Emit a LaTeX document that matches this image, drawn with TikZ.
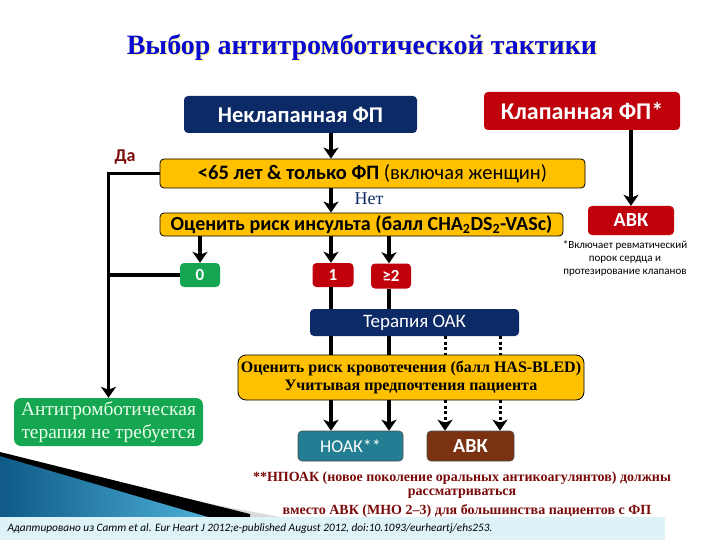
\documentclass[tikz,border=0pt]{standalone}
\usepackage{fontspec}
\setmainfont{Liberation Serif}
\newfontfamily\calf{Carlito}
\usetikzlibrary{arrows.meta}
\definecolor{navy}{HTML}{0C2A66}
\definecolor{rd}{HTML}{C0000A}
\definecolor{org}{HTML}{FFC000}
\definecolor{grn}{HTML}{14A650}
\definecolor{teal2}{HTML}{237E93}
\definecolor{brn}{HTML}{7B3211}
\definecolor{dred}{HTML}{7A0A0A}
\definecolor{tblue}{HTML}{0A0ACF}
\definecolor{strip}{HTML}{DDF3F8}
\definecolor{sw1}{HTML}{0F5A86}
\definecolor{sw2}{HTML}{4FB3DC}
\begin{document}
\begin{tikzpicture}[x=1pt,y=-1pt,
  box/.style={rounded corners=4pt, inner sep=0pt, align=center, text=white,
    font=\calf\bfseries\fontsize{17}{19}\selectfont},
  obox/.style={box, fill=org, draw=black, line width=0.8pt, text=black},
  arr/.style={line width=3.5pt, -{Stealth[length=11pt,width=15pt,inset=3pt]}},
  ln/.style={line width=3.5pt},
  dotl/.style={line width=3pt, dash pattern=on 3pt off 2.5pt},
  darr/.style={dotl, -{Stealth[length=11pt,width=15pt,inset=3pt]}}]
\useasboundingbox (0,0) rectangle (720,540);
% decorative swoosh and strip
\shade[left color=sw1, right color=sw2] (0,454) -- (215,519) -- (0,519) -- cycle;
\fill[black!15] (170,496) -- (290,519) -- (255,519) -- cycle;
\fill[black] (0,452) -- (250,514) -- (250,519) -- (215,519) -- (0,456) -- cycle;
\fill[strip] (0,517) rectangle (665,540);
\node[anchor=west, font=\calf\itshape\fontsize{11.3}{13}\selectfont] (src) at (4,529)
  {Адаптировано из Camm et al. Eur Heart J 2012;e-published August 2012, doi:10.1093/eurheartj/ehs253.};
% title
\node[text=yellow!35, font=\bfseries\fontsize{28}{32}\selectfont] (titleglow) at (363.5,48.5) {Выбор антитромботической тактики};
\node[text=tblue, font=\bfseries\fontsize{28}{32}\selectfont] (title) at (362,47) {Выбор антитромботической тактики};
% coordinates for connector columns
\coordinate (c1) at (331,0);
\coordinate (c2) at (389,0);
\coordinate (d1) at (445,0);
\coordinate (d2) at (500,0);
% nodes
\node[box, fill=navy, minimum width=233pt, minimum height=37pt, font=\calf\bfseries\fontsize{22.5}{24}\selectfont] (nonval) at (300.5,114.5) {Неклапанная ФП};
\node[box, fill=rd, minimum width=196pt, minimum height=38pt, font=\calf\bfseries\fontsize{24}{26}\selectfont] (val) at (582,111) {Клапанная ФП*};
\node[obox, minimum width=425pt, minimum height=29pt, font=\calf\fontsize{20.5}{22}\selectfont] (age) at (372.5,173.5) {\textbf{<65 лет \& только ФП} (включая женщин)};
\node[obox, minimum width=403pt, minimum height=23pt, font=\calf\bfseries\fontsize{20}{22}\selectfont] (stroke) at (361.5,224.5) {Оценить риск инсульта (балл CHA\textsubscript{2}DS\textsubscript{2}-VASc)};
\node[box, fill=rd, minimum width=86pt, minimum height=29pt, font=\calf\bfseries\fontsize{20}{22}\selectfont] (avk1) at (631,220.5) {АВК};
\node[box, fill=grn, minimum width=40pt, minimum height=24pt, font=\calf\bfseries\fontsize{17}{19}\selectfont] (z0) at (200,275) {0};
\node[box, fill=rd, minimum width=41pt, minimum height=24pt, font=\calf\bfseries\fontsize{17}{19}\selectfont] (one) at (333,275) {1};
\node[box, fill=rd, minimum width=40pt, minimum height=25pt, font=\calf\bfseries\fontsize{17}{19}\selectfont] (two) at (391,276) {≥2};
\node[box, fill=navy, minimum width=209pt, minimum height=27pt, font=\calf\fontsize{19}{21}\selectfont] (oak) at (414.5,322.5) {Терапия ОАК};
\node[obox, rounded corners=8pt, minimum width=346pt, minimum height=45pt, font=\bfseries\fontsize{16}{18.5}\selectfont] (bleed) at (411,377.5) {Оценить риск кровотечения (балл HAS-BLED)\\Учитывая предпочтения пациента};
\node[box, fill=teal2, draw=black!70, line width=0.6pt, minimum width=105pt, minimum height=30pt, font=\calf\fontsize{18}{20}\selectfont] (noak) at (350.5,446) {НОАК**};
\node[box, fill=brn, draw=black!70, line width=0.6pt, minimum width=87pt, minimum height=30pt, font=\calf\bfseries\fontsize{20}{22}\selectfont] (avk2) at (470.5,446) {АВК};
\node[box, fill=grn, rounded corners=7pt, minimum width=189pt, minimum height=48pt, text=green!8, font=\fontsize{19.4}{23}\selectfont] (none) at (108.5,422) {Антигромботическая\\терапия не требуется};
% labels
\node[text=dred, font=\calf\bfseries\fontsize{18}{20}\selectfont] (yes) at (125,157) {Да};
\node[text=navy, font=\fontsize{18}{20}\selectfont] (no) at (369,199) {Нет};
\node[align=center, font=\calf\fontsize{11}{13}\selectfont] (fn) at (625,258) {*Включает ревматический\\порок сердца и\\протезирование клапанов};
\node[text=dred, font=\bfseries\fontsize{14}{16}\selectfont] (n1) at (462,478) {**НПОАК (новое поколение оральных антикоагулянтов) должны};
\node[text=dred, font=\bfseries\fontsize{14}{16}\selectfont] (n2) at (462,494) {рассматриваться};
\node[text=dred, font=\bfseries\fontsize{14}{16}\selectfont] (n3) at (467,511) {вместо АВК (МНО 2–3) для большинства пациентов с ФП};
% connectors
\draw[arr] (nonval.south -| c1) -- (age.north -| c1);
\draw[arr] (age.south -| c1) -- (stroke.north -| c1);
\draw[arr] (val.south -| avk1) -- (avk1.north);
\draw[arr] (age.west) -| (none.north);
\draw[ln] (z0.west) -- (z0.west -| none.north);
\draw[arr] (stroke.south -| z0) -- (z0.north);
\draw[arr] (stroke.south -| c1) -- (one.north -| c1);
\draw[arr] (stroke.south -| c2) -- (two.north -| c2);
\draw[ln] (one.south -| c1) -- (oak.north -| c1);
\draw[ln] (two.south -| c2) -- (oak.north -| c2);
\draw[ln] (oak.south -| c1) -- (bleed.north -| c1);
\draw[ln] (oak.south -| c2) -- (bleed.north -| c2);
\draw[dotl] (oak.south -| d1) -- (bleed.north -| d1);
\draw[dotl] (oak.south -| d2) -- (bleed.north -| d2);
\draw[arr] (bleed.south -| c1) -- (noak.north -| c1);
\draw[arr] (bleed.south -| c2) -- (noak.north -| c2);
\draw[darr] (bleed.south -| d1) -- (avk2.north -| d1);
\draw[darr] (bleed.south -| d2) -- (avk2.north -| d2);
\end{tikzpicture}
\end{document}
